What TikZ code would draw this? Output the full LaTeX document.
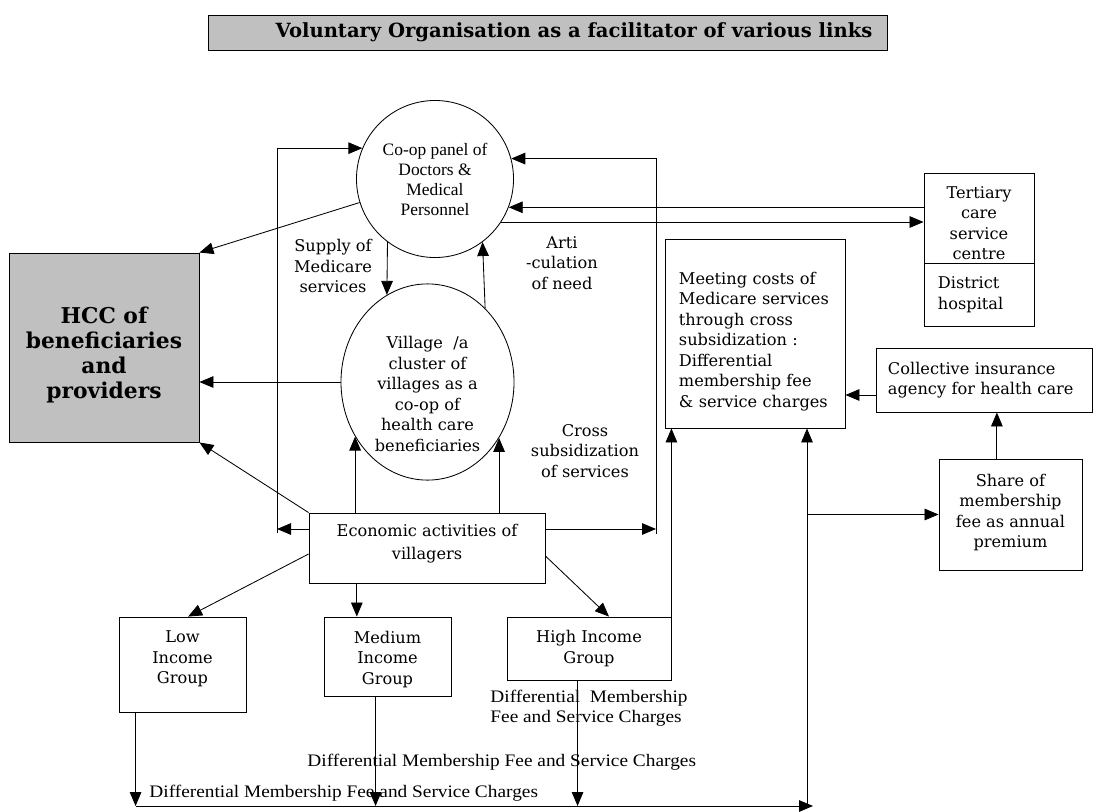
\documentclass[tikz,border=0pt]{standalone}
\usepackage{fontspec}
\setmainfont{DejaVu Serif}
\newfontfamily\tmsfont{Liberation Serif}
\newfontfamily\palfont[FakeStretch=1.1]{Liberation Serif}
\usepackage{tikz}
\usetikzlibrary{arrows.meta,shapes.geometric,calc}
\definecolor{boxgray}{RGB}{192,192,192}

% struts to push the text of a box down or up
\newcommand{\dn}[1]{\rule{0pt}{#1}}
\newcommand{\upx}[1]{\rule[-#1]{0pt}{0pt}}

\tikzset{
  box/.style={draw, line width=0.6pt, align=center, inner sep=2pt,
    font=\fontsize{11.5}{14.6}\selectfont},
  graybox/.style={box, fill=boxgray},
  ring/.style={draw, circle, line width=0.6pt, inner sep=0pt, align=center},
  oval/.style={draw, ellipse, line width=0.6pt, inner sep=0pt, align=center,
    font=\fontsize{11.5}{14.6}\selectfont},
  lbl/.style={align=center, inner sep=0pt, font=\fontsize{11.5}{14.6}\selectfont},
  fee/.style={align=left, inner sep=0pt, anchor=west,
    font=\palfont\fontsize{12.5}{14.2}\selectfont}
}

\begin{document}
\begin{tikzpicture}[x=0.025cm, y=-0.025cm, line width=0.6pt,
  >={Triangle[length=3.5mm,width=2.9mm]}]
  \useasboundingbox (0,0) rectangle (1093,811);

  % title and main blocks
  \node[graybox, minimum width=16.95cm, minimum height=0.875cm,
    font=\bfseries\fontsize{13.9}{16}\selectfont] (title) at (548,32.5)
    {\hspace*{1.3cm}Voluntary Organisation as a facilitator of various links};
  \node[graybox, minimum width=4.75cm, minimum height=4.725cm,
    font=\bfseries\fontsize{15.5}{17.8}\selectfont] (hcc) at (104,347.5)
    {\dn{22pt}HCC of\\beneficiaries\\and\\providers};
  \node[ring, minimum size=3.925cm, font=\tmsfont\fontsize{12.4}{14.2}\selectfont]
    (coop) at (435,179) {Co-op panel of\\Doctors \&\\Medical\\Personnel};
  \node[oval, minimum width=4.325cm, minimum height=4.75cm] (village) at (427.5,382)
    {\dn{25.5pt}Village~ /a\\cluster of\\villages as a\\co-op of\\health care\\beneficiaries};
  \node[box, minimum width=5.9cm, minimum height=1.75cm,
    font=\fontsize{11.5}{16.4}\selectfont] (econ) at (427,548)
    {Economic activities of\\villagers\upx{9.2pt}};

  % income groups
  \node[box, minimum width=3.175cm, minimum height=2.375cm] (low) at (182.5,664.5)
    {Low\\Income\\Group\upx{10pt}};
  \node[box, minimum width=3.175cm, minimum height=1.975cm] (med) at (387.5,656.5)
    {\dn{13pt}Medium\\Income\\Group};
  \node[box, minimum width=4.1cm, minimum height=1.575cm] (high) at (589,648.5)
    {High Income\\Group};

  % right hand side
  \node[box, minimum width=4.5cm, minimum height=4.725cm, align=left, text width=3.8cm]
    (meet) at (755,333.5) {\dn{20pt}Meeting costs of\\Medicare services\\through cross\\
    subsidization :\\Differential\\membership fee\\\& service charges};
  \node[box, minimum width=2.75cm, minimum height=2.25cm] (tert) at (979,218)
    {\dn{15.7pt}Tertiary\\care\\service\\centre};
  \node[box, minimum width=2.75cm, minimum height=1.575cm, align=left, text width=2.05cm]
    (dist) at (979,294.5) {District\\hospital};
  \node[box, minimum width=5.4cm, minimum height=1.6cm, align=left, text width=4.8cm]
    (coll) at (984,380) {Collective insurance\\agency for health care};
  \node[box, minimum width=3.575cm, minimum height=2.775cm] (share) at (1010.5,514.5)
    {Share of\\membership\\fee as annual\\premium\upx{5pt}};

  % free labels
  \node[lbl] (supply) at (333,266) {Supply of\\Medicare\\services};
  \node[lbl] (artic) at (562,263) {Arti\\-culation\\of need};
  \node[lbl] (cross) at (585,451) {Cross\\subsidization\\of services};
  \node[fee] (feehigh) at (490,708) {Differential~ Membership\\Fee and Service Charges};
  \node[fee] (feemid) at (307,762) {Differential Membership Fee and Service Charges};
  \node[fee] (feelow) at (149,793) {Differential Membership Fee and Service Charges};

  % links to HCC
  \draw[->] (coop) -- (hcc.north east);
  \draw[->] (village.west) -- (village.west -| hcc.east);
  \draw[->] (econ.north west) -- (hcc.south east);

  % links between the two co-ops
  \draw[->] (coop.233.3) -- (village.115.2);
  \draw[->] (village.52.7) -- (coop.307.8);
  \draw[->] (econ.north -| village.217.5) -- (village.217.5);
  \draw[->] (econ.north -| village.322) -- (village.322);

  % loops round the circles
  \coordinate (lft) at (277,529);
  \coordinate (rgt) at (656,529);
  \draw[->] (econ.west |- lft) -- (lft);
  \draw[->] ($(lft)+(0,4)$) -- (lft |- coop.157.5) -- (coop.157.5);
  \draw[->] (econ.east |- rgt) -- (rgt);
  \draw[->] ($(rgt)+(0,5)$) -- (rgt |- coop.15) -- (coop.15);

  % tertiary care
  \draw[->] (tert.west |- coop.-21) -- (coop.-21);
  \draw[->] (coop.-33) -- (coop.-33 -| tert.west);

  % income groups
  \coordinate (medin) at ($(med.north west)!0.26!(med.north east)$);
  \draw[->] ([yshift=-0.15cm]econ.west) -- ([xshift=0.14cm]low.north);
  \draw[->] (econ.south -| medin) -- (medin);
  \draw[->] ([yshift=-0.2cm]econ.east) -- ([xshift=0.5cm]high.north);
  \draw[->] (high.north east) -- (high.north east |- meet.south);

  % fees collected at the bottom
  \coordinate (lowdn) at ($(low.south west)+(17,0)$);
  \coordinate (meddn) at ($(med.south west)+(52,0)$);
  \coordinate (highdn) at ($(high.south west)+(71,0)$);
  \coordinate (bl) at (136,806);
  \coordinate (br) at (813,806);
  \coordinate (up) at (807,806);
  \draw[->] (lowdn) -- (lowdn |- bl);
  \draw[->] (meddn) -- (meddn |- bl);
  \draw[->] (highdn) -- (highdn |- bl);
  \draw[->] (bl) -- (br);
  \draw[->] (up) -- (up |- meet.south);
  \draw[->] (up |- share.west) -- (share.west);

  % insurance
  \coordinate (collout) at ($(coll.west)+(0,15)$);
  \draw[->] ([xshift=-0.34cm]share.north) -- ([xshift=-0.34cm]share.north |- coll.south);
  \draw[->] (collout) -- (collout -| meet.east);
\end{tikzpicture}
\end{document}
